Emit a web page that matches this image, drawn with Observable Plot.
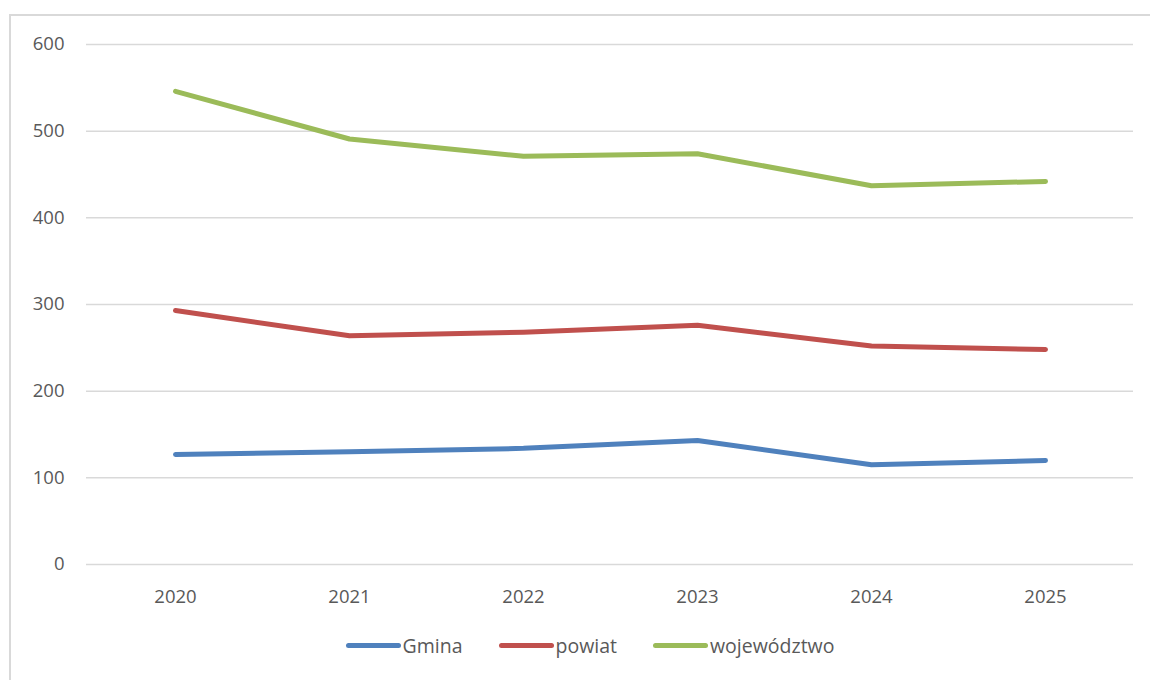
<!DOCTYPE html>
<html>
<head>
<meta charset="utf-8">
<script src="https://cdn.jsdelivr.net/npm/d3@7"></script>
<script src="https://cdn.jsdelivr.net/npm/@observablehq/plot@0.6"></script>
<style>
  html, body { margin: 0; padding: 0; background: #fff; width: 1150px; height: 680px; overflow: hidden; }
  #frame { position: absolute; left: 9px; top: 14px; width: 1141px; height: 666px; border: 2px solid #d9d9d9; border-right: none; border-bottom: none; box-sizing: border-box; }
  #chart { position: absolute; left: 0; top: 0; }
  #legend { position: absolute; left: 0; top: 632px; width: 1180px; display: flex; justify-content: center; gap: 36px;
            font-family: "Open Sans", Lato, sans-serif; font-size: 19.5px; color: #595959; }
  .item { display: flex; align-items: center; }
  .sw { width: 55px; height: 5px; border-radius: 3px; margin-right: 2px; }
</style>
</head>
<body>
<div id="frame"></div>
<div id="chart"></div>
<div id="legend"></div>
<script>
const years = ["2020", "2021", "2022", "2023", "2024", "2025"];
const gmina = [127, 130, 134, 143, 115, 120];
const powiat = [293, 264, 268, 276, 252, 248];
const wojewodztwo = [546, 491, 471, 474, 437, 442];
const seriesNames = ["Gmina", "powiat", "województwo"];
const seriesColors = ["#4F81BD", "#C0504D", "#9BBB59"];
const yTicks = [0, 100, 200, 300, 400, 500, 600];

const seriesValues = [gmina, powiat, wojewodztwo];
const data = [];
seriesNames.forEach((name, i) => {
  years.forEach((y, j) => data.push({ series: name, year: y, value: seriesValues[i][j] }));
});

const plot = Plot.plot({
  width: 1150,
  height: 630,
  marginLeft: 86,
  marginRight: 17,
  marginTop: 44,
  marginBottom: 66,
  style: { fontFamily: '"Open Sans", Lato, sans-serif', fontSize: "18.5px", color: "#595959", background: "transparent" },
  x: { type: "point", domain: years, padding: 0.5, label: null },
  y: { domain: [0, 600], ticks: yTicks, label: null },
  color: { domain: seriesNames, range: seriesColors },
  marks: [
    Plot.gridY(yTicks, { stroke: "#d9d9d9", strokeOpacity: 1, strokeWidth: 1.5 }),
    Plot.axisY({ ticks: yTicks, tickSize: 0, tickPadding: 22, fill: "#595959", label: null }),
    Plot.axisX({ tickSize: 0, tickPadding: 25, fill: "#595959", label: null }),
    Plot.line(data, { x: "year", y: "value", z: "series", stroke: "series", strokeWidth: 5, strokeLinecap: "round", strokeLinejoin: "round" })
  ]
});
document.getElementById("chart").appendChild(plot);

const legend = document.getElementById("legend");
seriesNames.forEach((name, i) => {
  const item = document.createElement("div");
  item.className = "item";
  const sw = document.createElement("div");
  sw.className = "sw";
  sw.style.background = seriesColors[i];
  const t = document.createElement("span");
  t.textContent = name;
  item.appendChild(sw);
  item.appendChild(t);
  legend.appendChild(item);
});
</script>
</body>
</html>
